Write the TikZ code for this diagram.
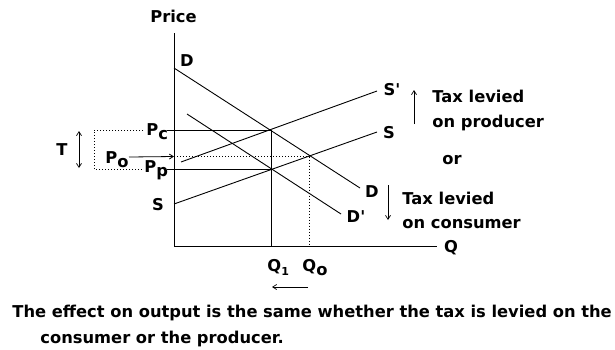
\documentclass[tikz,border=0pt]{standalone}
\usepackage{fontspec}
\setmainfont{DejaVu Sans}
\usetikzlibrary{arrows.meta, calc}

\newcommand{\lowsub}[1]{\raisebox{-4pt}{#1}}
\newcommand{\lownum}[1]{\raisebox{-4pt}{\fontsize{11}{11}\selectfont #1}}

\begin{document}
\begin{tikzpicture}[x=1pt, y=-1pt, line width=0.9pt, >={Straight Barb[length=4pt, width=5pt]},
  every node/.style={font=\bfseries\fontsize{16.3}{19}\selectfont, inner sep=0pt},
  dotline/.style={dash pattern=on 1pt off 2pt}]
  \useasboundingbox (0,0) rectangle (615,349);
  % axes
  \coordinate (ytop) at (174,33);
  \coordinate (origin) at (174,246);
  \coordinate (xend) at (437,246);
  \draw (ytop) -- (origin) -- (xend);
  \node (price) at (173.5,16) {Price};
  \node (qlabel) at (451,248) {Q};
  % demand and supply
  \coordinate (dstart) at (174,68);
  \coordinate (dend) at (360,188);
  \coordinate (d2start) at (187,114);
  \coordinate (d2end) at (341,214);
  \coordinate (sstart) at (174,204);
  \coordinate (send) at (377,132);
  \coordinate (s2start) at (181,162);
  \coordinate (s2end) at (377,91);
  \draw (dstart) -- (dend);
  \draw (d2start) -- (d2end);
  \draw (sstart) -- (send);
  \draw (s2start) -- (s2end);
  \node (dtop) at (187,61) {D};
  \node (dlab) at (372,192) {D};
  \node (d2lab) at (356,217) {D\textquotesingle};
  \node (s2lab) at (392,90) {S\textquotesingle};
  \node (slab) at (389,133) {S};
  \node (sleft) at (158,205) {S};
  % equilibria
  \coordinate (pc) at (271,130);
  \coordinate (pp) at (271,169);
  \coordinate (po) at (309,156.5);
  \coordinate (pcaxis) at (167,130);
  \coordinate (ppaxis) at (167,169);
  \coordinate (poaxis) at (174,156.5);
  \coordinate (q1) at (271,246);
  \coordinate (q0) at (309,246);
  \draw (pcaxis) -- (pc) -- (q1);
  \draw (ppaxis) -- (pp);
  \draw[dotline] (poaxis) -- (po) -- (q0);
  \node[anchor=base west] (pclab) at (146,135) {P\lowsub{c}};
  \node[anchor=base west] (polab) at (105,163) {P\lowsub{o}};
  \node[anchor=base west] (pplab) at (144,172) {P\lowsub{p}};
  \node[anchor=base west] (q1lab) at (267,271) {Q\lownum{1}};
  \node[anchor=base west] (q0lab) at (302,271) {Q\lowsub{o}};
  % tax wedge
  \coordinate (brtopR) at (143,130);
  \coordinate (brtop) at (94,130);
  \coordinate (brbot) at (94,169);
  \coordinate (brbotR) at (142,169);
  \draw[dotline] (brtopR) -- (brtop) -- (brbot) -- (brbotR);
  \node (tlab) at (62,150) {T};
  \coordinate (tup) at (79,131);
  \coordinate (tdown) at (79,168);
  \draw[<->, line width=0.7pt] (tup) -- (tdown);
  \coordinate (poarrow) at (129,157);
  \draw[->, line width=0.8pt] (poarrow) -- (poaxis);
  % shifts
  \coordinate (upbot) at (414,124);
  \coordinate (uptop) at (414,90);
  \draw[->, line width=0.7pt] (upbot) -- (uptop);
  \coordinate (downtop) at (388,185);
  \coordinate (downbot) at (388,220);
  \draw[->, line width=0.7pt] (downtop) -- (downbot);
  \coordinate (qright) at (308,287);
  \coordinate (qleft) at (272,287);
  \draw[->, line width=0.7pt] (qright) -- (qleft);
  \node[anchor=base west] (prod1) at (432,102) {Tax levied};
  \node[anchor=base west] (prod2) at (432,127) {on producer};
  \node[anchor=base west] (orlab) at (442,164) {or};
  \node[anchor=base west] (cons1) at (402,204) {Tax levied};
  \node[anchor=base west] (cons2) at (402,228) {on consumer};
  % caption
  \node[anchor=base west] (cap1) at (12,317) {The effect on output is the same whether the tax is levied on the};
  \node[anchor=base west] (cap2) at (40,343) {consumer or the producer.};
\end{tikzpicture}
\end{document}
